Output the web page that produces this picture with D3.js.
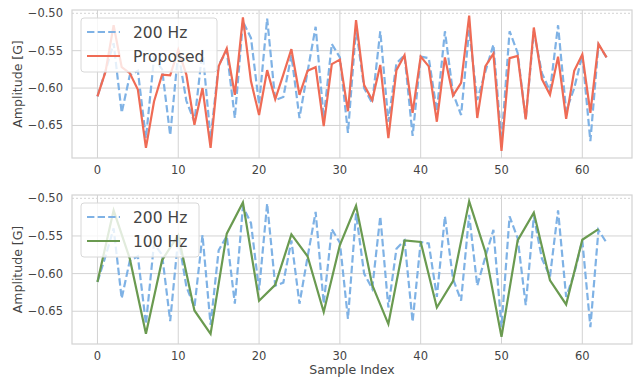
<!DOCTYPE html>
<html>
<head>
<meta charset="utf-8">
<script src="https://cdn.jsdelivr.net/npm/d3@7"></script>
<style>
  body { margin: 0; background: #fff; }
  svg { display: block; font-family: "DejaVu Sans", sans-serif; }
</style>
</head>
<body>
<svg id="chart" width="640" height="383"></svg>
<script>
// sample readings
var hz200 = [-0.611, -0.577, -0.540, -0.633, -0.583, -0.577, -0.667, -0.560, -0.575, -0.663,
             -0.552, -0.617, -0.645, -0.549, -0.668, -0.569, -0.550, -0.640, -0.511, -0.533,
             -0.622, -0.507, -0.616, -0.612, -0.556, -0.640, -0.578, -0.518, -0.640, -0.541,
             -0.559, -0.660, -0.520, -0.600, -0.620, -0.524, -0.645, -0.567, -0.556, -0.664,
             -0.558, -0.560, -0.631, -0.524, -0.607, -0.636, -0.522, -0.616, -0.578, -0.542,
             -0.671, -0.524, -0.553, -0.642, -0.524, -0.580, -0.604, -0.516, -0.631, -0.600,
             -0.556, -0.671, -0.542, -0.559];

var proposed = [-0.611, -0.578, -0.516, -0.572, -0.580, -0.602, -0.680, -0.618, -0.582, -0.583,
                -0.549, -0.582, -0.649, -0.600, -0.680, -0.571, -0.547, -0.609, -0.5056, -0.591,
                -0.636, -0.576, -0.615, -0.582, -0.548, -0.609, -0.577, -0.572, -0.651, -0.568,
                -0.562, -0.631, -0.509, -0.596, -0.616, -0.569, -0.667, -0.576, -0.556, -0.633,
                -0.558, -0.571, -0.645, -0.559, -0.610, -0.593, -0.503, -0.640, -0.571, -0.554,
                -0.684, -0.560, -0.557, -0.642, -0.519, -0.588, -0.609, -0.558, -0.641, -0.577,
                -0.555, -0.633, -0.541, -0.559];

// 100 Hz only has every second sample
var idx100 = d3.range(0, 64, 2);
var hz100 = [-0.611, -0.516, -0.580, -0.680, -0.582, -0.549, -0.649, -0.680, -0.547, -0.5056,
             -0.636, -0.615, -0.548, -0.577, -0.651, -0.562, -0.510, -0.615, -0.667, -0.556,
             -0.558, -0.645, -0.610, -0.504, -0.571, -0.684, -0.556, -0.519, -0.609, -0.641,
             -0.555, -0.541];

var xTicks = [0, 10, 20, 30, 40, 50, 60];
var yTicks = [-0.50, -0.55, -0.60, -0.65];

var colBlue = "#7fb2e5", colRed = "#ef6b55", colGreen = "#6a9a50";
var gridCol = "#d3d3d3";

var svg = d3.select("#chart");
var left = 72, right = 632;

var x = d3.scaleLinear().domain([-3.15, 66.15]).range([left, right]);

var panels = [
  {top: 10, bottom: 158,
   series: [{name: "200 Hz", xs: d3.range(64), ys: hz200, color: colBlue, dash: "7.4,3.2"},
            {name: "Proposed", xs: d3.range(64), ys: proposed, color: colRed, dash: null}],
   legendW: 136},
  {top: 195, bottom: 344,
   series: [{name: "200 Hz", xs: d3.range(64), ys: hz200, color: colBlue, dash: "7.4,3.2"},
            {name: "100 Hz", xs: idx100, ys: hz100, color: colGreen, dash: null}],
   legendW: 118}
];

var fmt = function(v){ return d3.format(".2f")(v).replace("-", "\u2212"); };

panels.forEach(function(p){
  var y = d3.scaleLinear().domain([-0.6935, -0.4956]).range([p.bottom, p.top]);
  var g = svg.append("g");

  // grid
  g.selectAll(".vg").data(xTicks).enter().append("line")
    .attr("x1", function(d){ return x(d); }).attr("x2", function(d){ return x(d); })
    .attr("y1", p.top).attr("y2", p.bottom)
    .attr("stroke", gridCol).attr("stroke-width", 1);
  g.selectAll(".hg").data(yTicks).enter().append("line")
    .attr("x1", left).attr("x2", right)
    .attr("y1", function(d){ return y(d); }).attr("y2", function(d){ return y(d); })
    .attr("stroke", gridCol).attr("stroke-width", 1)
    .attr("stroke-dasharray", function(d){ return d === -0.50 ? "2,2" : null; });

  // spines
  g.append("rect").attr("x", left).attr("y", p.top)
    .attr("width", right - left).attr("height", p.bottom - p.top)
    .attr("fill", "none").attr("stroke", gridCol).attr("stroke-width", 1.2);

  // tick labels
  g.selectAll(".xt").data(xTicks).enter().append("text")
    .attr("x", function(d){ return x(d); }).attr("y", p.bottom + 16)
    .attr("text-anchor", "middle").attr("font-size", 11.5).attr("fill", "#444")
    .text(function(d){ return d; });
  g.selectAll(".yt").data(yTicks).enter().append("text")
    .attr("x", left - 9).attr("y", function(d){ return y(d) + 4; })
    .attr("text-anchor", "end").attr("font-size", 11.5).attr("fill", "#444")
    .text(fmt);

  g.append("text")
    .attr("transform", "translate(22," + ((p.top + p.bottom) / 2) + ") rotate(-90)")
    .attr("text-anchor", "middle").attr("font-size", 12.5).attr("fill", "#444")
    .text("Amplitude [G]");

  // lines
  var clipId = "clip" + p.top;
  svg.append("clipPath").attr("id", clipId).append("rect")
    .attr("x", left).attr("y", p.top).attr("width", right - left).attr("height", p.bottom - p.top);

  p.series.forEach(function(s){
    var line = d3.line()
      .x(function(d){ return x(d[0]); })
      .y(function(d){ return y(d[1]); });
    g.append("path")
      .datum(d3.zip(s.xs, s.ys))
      .attr("d", line)
      .attr("clip-path", "url(#" + clipId + ")")
      .attr("fill", "none").attr("stroke", s.color).attr("stroke-width", 2.2)
      .attr("stroke-dasharray", s.dash);
  });

  // legend
  var lg = g.append("g").attr("transform", "translate(81," + (p.top + 8) + ")");
  lg.append("rect").attr("width", p.legendW).attr("height", 54).attr("rx", 3)
    .attr("fill", "#fff").attr("fill-opacity", 0.8)
    .attr("stroke", "#d8d8d8").attr("stroke-width", 1);
  p.series.forEach(function(s, i){
    var cy = 14 + i * 24;
    lg.append("line").attr("x1", 6).attr("x2", 39).attr("y1", cy).attr("y2", cy)
      .attr("stroke", s.color).attr("stroke-width", 2.2).attr("stroke-dasharray", s.dash);
    lg.append("text").attr("x", 52).attr("y", cy + 5.5)
      .attr("font-size", 15.5).attr("fill", "#444").text(s.name);
  });
});

svg.append("text").attr("x", (left + right) / 2).attr("y", 374)
  .attr("text-anchor", "middle").attr("font-size", 12.5).attr("fill", "#444")
  .text("Sample Index");
</script>
</body>
</html>
